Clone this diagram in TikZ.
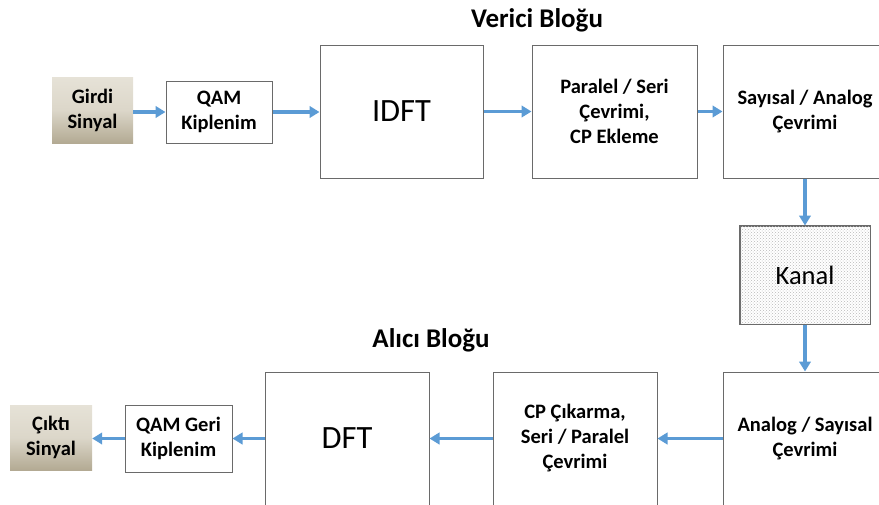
\documentclass[tikz,border=0pt]{standalone}
\usepackage{fontspec}
\setmainfont{Carlito}
\usetikzlibrary{arrows.meta,patterns}
\definecolor{flow}{HTML}{5B9BD5}
\definecolor{frame}{HTML}{6A6A6A}
\definecolor{sigtop}{HTML}{E6E2D7}
\definecolor{sigbot}{HTML}{B3AA93}
\begin{document}
\begin{tikzpicture}[x=1pt,y=-1pt,
  blockbox/.style={draw=frame,line width=1pt,fill=white,align=center,inner sep=0pt,
    font=\fontsize{20.5}{25}\selectfont\bfseries},
  bigbox/.style={draw=frame,line width=1pt,fill=white,inner sep=0pt,
    font=\fontsize{32.5}{36}\selectfont},
  signalbox/.style={top color=sigtop,bottom color=sigbot,middle color=sigtop!80!sigbot,
    draw=none,align=center,inner sep=0pt,font=\fontsize{20.5}{25}\selectfont\bfseries},
  flowarrow/.style={draw=flow,line width=3.2pt,-{Triangle[length=10pt,width=11.5pt]}},
  heading/.style={font=\fontsize{27}{30}\selectfont\bfseries}]
\useasboundingbox (0,0) rectangle (879,504);
\clip (0,0) rectangle (879,504);

% transmitter chain
\node[heading] (tx) at (537,20) {Verici Bloğu};
\node[signalbox,minimum width=81,minimum height=66] (girdi) at (92.5,110) {Girdi\\Sinyal};
\node[blockbox,minimum width=106,minimum height=62] (qam) at (219,112) {QAM\\Kiplenim};
\node[bigbox,minimum width=163,minimum height=133] (idft) at (401.5,111.5) {IDFT};
\node[blockbox,minimum width=165,minimum height=133] (ps) at (614.5,111.5) {Paralel / Seri\\Çevrimi,\\CP Ekleme};
\node[blockbox,minimum width=164,minimum height=133] (da) at (805,111.5) {Sayısal / Analog\\Çevrimi};

% channel: dotted fill with a frame
\node[draw=frame,line width=1pt,fill=white,minimum width=130,minimum height=98,inner sep=0pt] (kanal) at (805,275) {};
\fill[pattern=crosshatch dots,pattern color=gray!55] (kanal.north west) rectangle (kanal.south east);
\draw[frame,line width=1pt] (kanal.north west) rectangle (kanal.south east);
\node[font=\fontsize{26.5}{30}\selectfont] (kanaltxt) at (kanal.center) {Kanal};

% receiver chain
\node[heading] (rx) at (431,340) {Alıcı Bloğu};
\node[blockbox,minimum width=164,minimum height=133] (ad) at (805,438.5) {Analog / Sayısal\\Çevrimi};
\node[blockbox,minimum width=164,minimum height=133] (cp) at (575,438.5) {CP Çıkarma,\\Seri / Paralel\\Çevrimi};
\node[bigbox,minimum width=164,minimum height=133] (dft) at (347,438.5) {DFT};
\node[blockbox,minimum width=107,minimum height=67] (qamg) at (178.5,438.5) {QAM Geri\\Kiplenim};
\node[signalbox,minimum width=82,minimum height=65] (cikti) at (51,437.5) {Çıktı\\Sinyal};

% connectors
\draw[flowarrow] (girdi.east |- qam.west) -- (qam.west);
\draw[flowarrow] (qam.east) -- (qam.east -| idft.west);
\draw[flowarrow] (idft.east) -- (ps.west);
\draw[flowarrow] (ps.east) -- (da.west);
\draw[flowarrow] (da.south) -- (kanal.north);
\draw[flowarrow] (kanal.south) -- (ad.north);
\draw[flowarrow] (ad.west) -- (cp.east);
\draw[flowarrow] (cp.west) -- (dft.east);
\draw[flowarrow] (dft.west) -- (qamg.east);
\draw[flowarrow] (qamg.west) -- (qamg.west -| cikti.east);
\end{tikzpicture}
\end{document}
